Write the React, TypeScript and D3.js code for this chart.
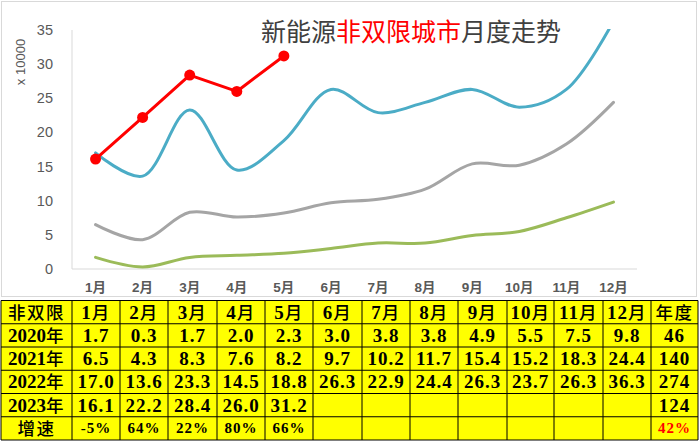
import React from 'react'
import * as d3 from 'd3'

const months = ['1月', '2月', '3月', '4月', '5月', '6月', '7月', '8月', '9月', '10月', '11月', '12月']
const v2020 = [1.7, 0.3, 1.7, 2.0, 2.3, 3.0, 3.8, 3.8, 4.9, 5.5, 7.5, 9.8]
const v2021 = [6.5, 4.3, 8.3, 7.6, 8.2, 9.7, 10.2, 11.7, 15.4, 15.2, 18.3, 24.4]
const v2022 = [17.0, 13.6, 23.3, 14.5, 18.8, 26.3, 22.9, 24.4, 26.3, 23.7, 26.3, 36.3]
const v2023 = [16.1, 22.2, 28.4, 26.0, 31.2]
const growth = ['-5%', '64%', '22%', '80%', '66%']
const yearLabels = ['2020年', '2021年', '2022年', '2023年']
const annual = ['46', '140', '274', '124']
const annualGrowth = '42%'
const yTicks = [0, 5, 10, 15, 20, 25, 30, 35]

const W = 700
const H = 441
const plot = { left: 72, right: 637, top: 30, bottom: 269 }

const x = d3.scaleBand<string>().domain(months).range([plot.left, plot.right])
const y = d3.scaleLinear().domain([0, 35]).range([plot.bottom, plot.top])
const cx = (i: number) => (x(months[i]) as number) + x.bandwidth() / 2

const smooth = d3.line<number>()
  .x((_, i) => cx(i))
  .y(d => y(d))
  .curve(d3.curveCatmullRom.alpha(0.5))

const straight = d3.line<number>()
  .x((_, i) => cx(i))
  .y(d => y(d))

const series = [
  { values: v2020, color: '#9BBB59' },
  { values: v2021, color: '#A5A5A5' },
  { values: v2022, color: '#4BACC6' },
]

// table layout
const tTop = 300.5
const rowH = 23.25
const colEdges = [1, 72, 120, 168, 217, 265, 313, 362, 410, 458, 507, 554, 603, 651, 698]

const fmt = (v: number) => v.toFixed(1)

// split a label into CJK / latin runs so the CJK part can be lighter
const runs = (s: string) => s.match(/[\u4e00-\u9fff]+|[^\u4e00-\u9fff]+/g) ?? []
const isCJK = (s: string) => /[\u4e00-\u9fff]/.test(s)

export default function App() {
  const rows: { label: string; cells: string[]; last: string; small?: boolean }[] = [
    { label: '非双限', cells: months, last: '年度' },
    { label: yearLabels[0], cells: v2020.map(fmt), last: annual[0] },
    { label: yearLabels[1], cells: v2021.map(fmt), last: annual[1] },
    { label: yearLabels[2], cells: v2022.map(fmt), last: annual[2] },
    { label: yearLabels[3], cells: months.map((_, i) => (i < v2023.length ? fmt(v2023[i]) : '')), last: annual[3] },
    { label: '增速', cells: months.map((_, i) => growth[i] ?? ''), last: annualGrowth, small: true },
  ]
  const tableFont = '"Liberation Serif", "Noto Sans CJK SC", serif'

  return (
    <svg width={W} height={H} style={{ position: 'absolute', left: 0, top: 0, background: '#fff' }}>
      <defs>
        <clipPath id="plotClip">
          <rect x={plot.left - 10} y={plot.top - 1} width={plot.right - plot.left + 20} height={plot.bottom - plot.top + 20} />
        </clipPath>
      </defs>
      <rect x={1.5} y={1.5} width={695} height={295} fill="#fff" stroke="#D9D9D9" strokeWidth={1} />

      {/* axes */}
      <line x1={plot.left} x2={plot.left} y1={plot.top} y2={plot.bottom} stroke="#D9D9D9" />
      <line x1={plot.left} x2={plot.right} y1={plot.bottom} y2={plot.bottom} stroke="#D9D9D9" />
      {yTicks.map(t => (
        <text key={t} x={53} y={y(t) + 5} textAnchor="end" fontSize={14.5}
          fontFamily='"Liberation Sans", Arial, sans-serif' fill="#595959">{t}</text>
      ))}
      <text transform="translate(25,62) rotate(-90)" textAnchor="middle" fontSize={13}
        fontFamily='"Liberation Sans", Arial, sans-serif' fill="#595959">x 10000</text>
      {months.map((m, i) => (
        <text key={m} x={cx(i)} y={292} textAnchor="middle" fontSize={13.5} fontWeight="bold"
          fontFamily='"Liberation Sans", "Noto Sans CJK SC", sans-serif' fill="#595959">{m}</text>
      ))}

      {/* title */}
      <text x={411} y={41} textAnchor="middle" fontSize={25} fontFamily='"Noto Sans CJK SC", sans-serif' fill="#404040">
        新能源<tspan fill="#FF0000">非双限城市</tspan>月度走势
      </text>

      {/* series */}
      <g clipPath="url(#plotClip)">
        {series.map(s => (
          <path key={s.color} d={smooth(s.values) ?? ''} fill="none" stroke={s.color} strokeWidth={3} strokeLinecap="round" />
        ))}
        <path d={straight(v2023) ?? ''} fill="none" stroke="#FF0000" strokeWidth={3} strokeLinejoin="round" />
        {v2023.map((v, i) => (
          <circle key={i} cx={cx(i)} cy={y(v)} r={5.5} fill="#FF0000" />
        ))}
      </g>

      {/* table */}
      <rect x={colEdges[0]} y={tTop} width={colEdges[colEdges.length - 1] - colEdges[0]} height={rowH * rows.length} fill="#FFFF00" />
      {rows.map((r, ri) => {
        const top = tTop + ri * rowH
        const mid = top + rowH / 2
        const cells = [r.label, ...r.cells, r.last]
        return (
          <g key={ri}>
            {cells.map((c, ci) => {
              const c0 = colEdges[ci]
              const c1 = colEdges[ci + 1]
              const isSmall = r.small && ci > 0
              const fs = isSmall ? 15 : 19
              const red = ri === rows.length - 1 && ci === cells.length - 1
              return (
                <text key={ci} x={(c0 + c1) / 2} y={mid + fs * 0.34} textAnchor="middle" fontSize={fs}
                  fontFamily={tableFont} letterSpacing={ci === 0 ? 0 : 1}
                  fill={red ? '#FF0000' : '#000'}>
                  {runs(c).map((p, pi) => (
                    <tspan key={pi} fontWeight={isCJK(p) ? 500 : 'bold'} fontSize={isCJK(p) ? 17.5 : fs}
                      letterSpacing={isCJK(p) ? 1.5 : undefined}>{p}</tspan>
                  ))}
                </text>
              )
            })}
          </g>
        )
      })}
      {d3.range(rows.length + 1).map(i => (
        <line key={'h' + i} x1={colEdges[0]} x2={colEdges[colEdges.length - 1]} y1={tTop + i * rowH} y2={tTop + i * rowH} stroke="#000" />
      ))}
      {colEdges.map((e, i) => (
        <line key={'v' + i} x1={e} x2={e} y1={tTop} y2={tTop + rowH * rows.length} stroke="#000" />
      ))}
    </svg>
  )
}
